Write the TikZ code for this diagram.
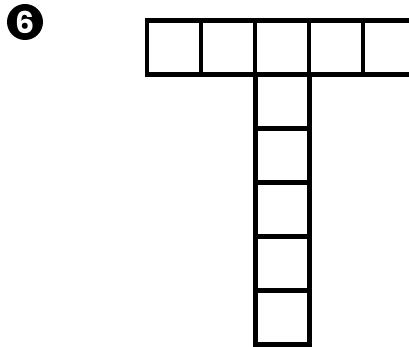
\documentclass[tikz,border=0pt]{standalone}
\usepackage{fontspec}
\newfontfamily\numfont{Poppins}
\begin{document}
\begin{tikzpicture}[x=1pt,y=-1pt,
  cell/.style={draw=black,line width=4.5pt,minimum size=54pt,inner sep=0pt,outer sep=0pt,anchor=north west},
  badge/.style={circle,fill=black,minimum size=36pt,inner sep=0pt,text=white,font=\numfont\bfseries\fontsize{30}{30}\selectfont}]
\useasboundingbox (0,0) rectangle (409,347);
\clip (0,0) rectangle (409,347);
\node[badge] (b) at (25,22) {\raisebox{-0.5pt}{6}};
\foreach \i in {0,...,4} {
  \node[cell] (r\i) at ({147+54*\i},20.5) {};
}
\foreach \j in {1,...,5} {
  \node[cell] (c\j) at (255.5,{20.5+54*\j}) {};
}
\end{tikzpicture}
\end{document}
